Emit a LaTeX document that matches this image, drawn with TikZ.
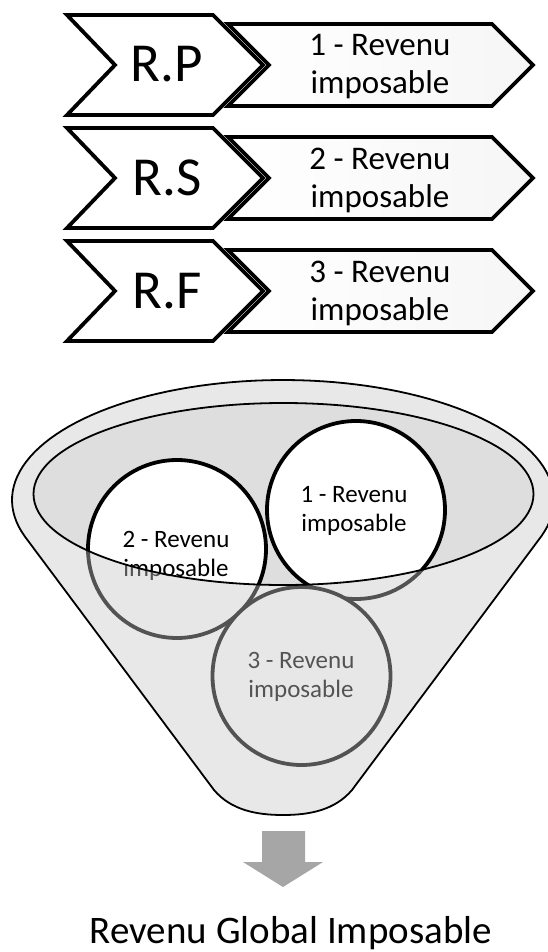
\documentclass[tikz,border=0pt]{standalone}
\usepackage{fontspec}
\setmainfont{Carlito}
\definecolor{bodygray}{RGB}{200,200,200}
\definecolor{mouthgray}{RGB}{222,222,222}
\definecolor{arrowgray}{RGB}{166,166,166}

\begin{document}
\begin{tikzpicture}[x=1pt, y=-1pt,
    chev/.style={draw, line width=3.8pt, fill=white},
    tag/.style={draw, line width=3.8pt, left color=white, right color=gray!7},
    big/.style={font=\fontsize{55}{60}\selectfont},
    small/.style={align=center, font=\fontsize{33}{38}\selectfont},
    coin/.style={circle, draw, line width=3.8pt, fill=white, minimum size=178pt, inner sep=0pt},
    cointext/.style={align=center, font=\fontsize{25}{29}\selectfont},
    rim/.style={draw, line width=1.8pt}]
  \useasboundingbox (0,0) rectangle (547,952);

  % the three incomes
  \draw[tag] (228,24) -- (492,24) -- (533,65) -- (492,106) -- (228,106) -- (269,65) -- cycle;
  \draw[chev] (67,15) -- (213,15) -- (263,65) -- (213,115) -- (67,115) -- (115,65) -- cycle;
  \node[big, anchor=base] (rp) at (167,82) {R.P};
  \node[small] (t1) at (380,67) {1 - Revenu\\imposable};

  \draw[tag] (228,137) -- (492,137) -- (533,178) -- (492,219) -- (228,219) -- (269,178) -- cycle;
  \draw[chev] (67,128) -- (213,128) -- (263,178) -- (213,228) -- (67,228) -- (115,178) -- cycle;
  \node[big, anchor=base] (rs) at (167,195) {R.S};
  \node[small] (t2) at (380,180) {2 - Revenu\\imposable};

  \draw[tag] (228,250) -- (492,250) -- (533,291) -- (492,332) -- (228,332) -- (269,291) -- cycle;
  \draw[chev] (67,241) -- (213,241) -- (263,291) -- (213,341) -- (67,341) -- (115,291) -- cycle;
  \node[big, anchor=base] (rf) at (167,308) {R.F};
  \node[small] (t3) at (380,293) {3 - Revenu\\imposable};

  % funnel
  \coordinate (mouth) at (283.5,494);
  \fill[mouthgray] (mouth) ellipse [x radius=250, y radius=91];
  \node[coin] (c2) at (177,549) {};
  \node[coin] (c1) at (356,510) {};
  \node[coin] (c3) at (301.5,676) {};
  \node[cointext] (c2t) at (176,556) {2 - Revenu\\imposable};
  \node[cointext] (c1t) at (354,511) {1 - Revenu\\imposable};
  \node[cointext] (c3t) at (301,677) {3 - Revenu\\imposable};
  \draw[rim, fill=bodygray, fill opacity=0.42, even odd rule]
    plot[domain=162.4:377.6, samples=90, variable=\t] ({283+271*cos(\t)}, {500+120*sin(\t)})
    -- (352,790) .. controls (335,810) and (310,815) .. (283,815)
    .. controls (256,815) and (231,810) .. (214,790) -- cycle
    (mouth) ellipse [x radius=250, y radius=91];

  % result
  \fill[arrowgray] (262,831) -- (305,831) -- (305,862) -- (323,862) -- (283,887)
    -- (243,862) -- (262,862) -- cycle;
  \node[anchor=base, font=\fontsize{39}{44}\selectfont] (total) at (291,943) {Revenu Global Imposable};
\end{tikzpicture}
\end{document}
